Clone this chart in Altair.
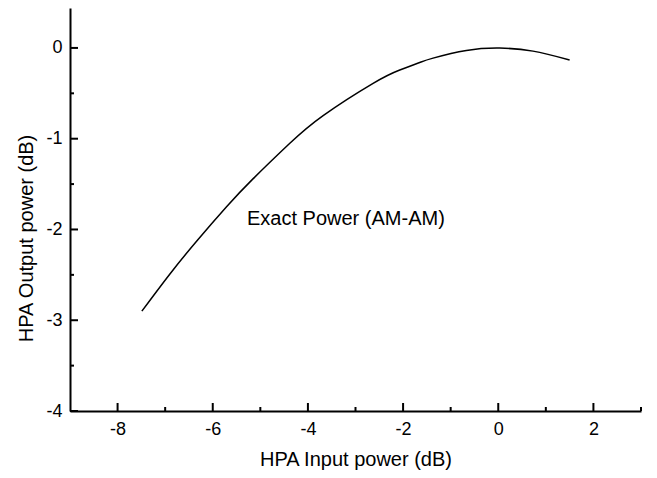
import altair as alt
import pandas as pd

# Curve
curve_x = [-7.49, -6.90, -6.34, -5.71, -5.15, -4.38, -3.68, -2.63, -2.07, -1.65, -1.37, -0.67, 0.03, 0.73, 1.50]
curve_y = [-2.90, -2.49, -2.13, -1.75, -1.44, -1.05, -0.745, -0.39, -0.243, -0.160, -0.112, -0.028, -0.002, -0.035, -0.132]

x_major = [-8, -6, -4, -2, 0, 2]
x_minor = [-7, -5, -3, -1, 1, 3]
y_major = [-4, -3, -2, -1, 0]
y_minor = [-3.5, -2.5, -1.5, -0.5]

note_text = ["Exact Power (AM-AM)"]
note_x = [-5.28]
note_y = [-1.89]

X_DOMAIN = [-9, 3]
Y_DOMAIN = [-4, 0.44]
W, H = 571, 403
FONT = "Liberation Sans"
LABEL_EXPR = "'' + datum.value"

xs = alt.Scale(domain=X_DOMAIN, nice=False, zero=False)
ys = alt.Scale(domain=Y_DOMAIN, nice=False, zero=False)

curve_df = pd.DataFrame({"x": curve_x, "y": curve_y})

x_axis = alt.Axis(
    values=x_major, labelExpr=LABEL_EXPR, ticks=False, tickSize=0, grid=False,
    domainColor="black", domainWidth=2, labelFont=FONT, labelFontSize=18,
    labelColor="black", labelPadding=9, title="HPA Input power (dB)",
    titleFont=FONT, titleFontSize=20, titleFontWeight="normal", titleColor="black",
    titleY=54, titleBaseline="alphabetic",
)
y_axis = alt.Axis(
    values=y_major, labelExpr=LABEL_EXPR, ticks=False, tickSize=0, grid=False,
    domainColor="black", domainWidth=2, labelFont=FONT, labelFontSize=18,
    labelColor="black", labelPadding=8, title="HPA Output power (dB)",
    titleFont=FONT, titleFontSize=20, titleFontWeight="normal", titleColor="black",
    titleX=-43.5, titleY=230, titleBaseline="middle", titleAngle=-90,
)

line = alt.Chart(curve_df).mark_line(color="black", strokeWidth=1.5, interpolate="natural").encode(
    x=alt.X("x:Q", scale=xs, axis=x_axis),
    y=alt.Y("y:Q", scale=ys, axis=y_axis),
)

xt_major = alt.Chart(pd.DataFrame({"v": x_major})).mark_rule(color="black", strokeWidth=2).encode(
    x=alt.X("v:Q", scale=xs), y=alt.value(H), y2=alt.value(H - 8)
)
xt_minor = alt.Chart(pd.DataFrame({"v": x_minor})).mark_rule(color="black", strokeWidth=2).encode(
    x=alt.X("v:Q", scale=xs), y=alt.value(H), y2=alt.value(H - 4)
)
yt_major = alt.Chart(pd.DataFrame({"v": y_major})).mark_rule(color="black", strokeWidth=2).encode(
    y=alt.Y("v:Q", scale=ys), x=alt.value(0), x2=alt.value(8)
)
yt_minor = alt.Chart(pd.DataFrame({"v": y_minor})).mark_rule(color="black", strokeWidth=2).encode(
    y=alt.Y("v:Q", scale=ys), x=alt.value(0), x2=alt.value(4)
)

note = alt.Chart(pd.DataFrame({"t": note_text, "x": note_x, "y": note_y})).mark_text(
    font=FONT, fontSize=20, color="black", align="left", baseline="middle"
).encode(
    x=alt.X("x:Q", scale=xs), y=alt.Y("y:Q", scale=ys), text="t:N"
)

chart = alt.layer(line, xt_major, xt_minor, yt_major, yt_minor, note).properties(
    width=W, height=H,
    autosize=alt.AutoSizeParams(type="none"),
    padding={"left": 62, "top": 0, "right": 5, "bottom": 59},
    background="white",
).configure_view(stroke=None)

chart.save("out.html", embed_options={"renderer": "svg", "actions": False})
